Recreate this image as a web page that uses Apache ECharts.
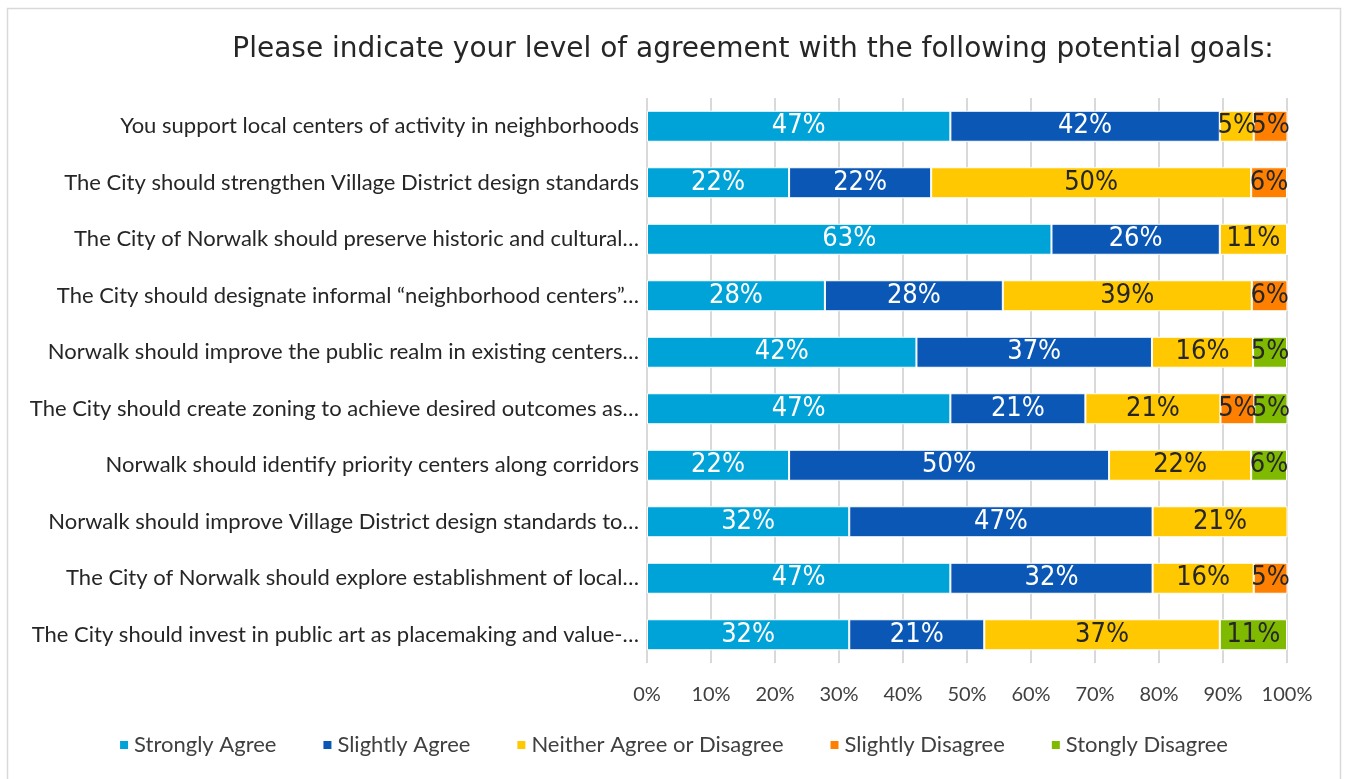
<!DOCTYPE html>
<html>
<head>
<meta charset="utf-8">
<script src="https://cdn.jsdelivr.net/npm/echarts@6/dist/echarts.min.js"></script>
<style>
html,body{margin:0;padding:0;background:#fff;}
#chart{width:1346px;height:779px;}
</style>
</head>
<body>
<div id="chart"></div>
<script>
const titleText = 'Please indicate your level of agreement with the following potential goals:';
const categories = [
  'You support local centers of activity in neighborhoods',
  'The City should strengthen Village District design standards',
  'The City of Norwalk should preserve historic and cultural…',
  'The City should designate informal \u201cneighborhood centers\u201d…',
  'Norwalk should improve the public realm in existing centers…',
  'The City should create zoning to achieve desired outcomes as…',
  'Norwalk should identify priority centers along corridors',
  'Norwalk should improve Village District design standards to…',
  'The City of Norwalk should explore establishment of local…',
  'The City should invest in public art as placemaking and value-…'
];
const seriesNames = ['Strongly Agree','Slightly Agree','Neither Agree or Disagree','Slightly Disagree','Stongly Disagree'];
const stronglyAgree   = [47.4, 22.2, 63.2, 27.8, 42.1, 47.4, 22.2, 31.6, 47.4, 31.6];
const slightlyAgree   = [42.1, 22.2, 26.3, 27.8, 36.8, 21.1, 50.0, 47.4, 31.6, 21.1];
const neither         = [5.3, 50.0, 10.5, 38.9, 15.8, 21.1, 22.2, 21.1, 15.8, 36.8];
const slightlyDisagree= [5.3, 5.6, 0, 5.6, 0, 5.3, 0, 0, 5.3, 0];
const stronglyDisagree= [0, 0, 0, 0, 5.3, 5.3, 5.6, 0, 0, 10.5];
const xTicks = [0,10,20,30,40,50,60,70,80,90,100];

const colors = ['#00A3D7','#0A57B6','#FFC800','#FF8000','#7FBA00'];
const labelColors = ['#ffffff','#ffffff','#262626','#262626','#262626'];
const allData = [stronglyAgree, slightlyAgree, neither, slightlyDisagree, stronglyDisagree];
const labelFont = '"Liberation Sans Narrow", "DejaVu Sans Condensed", Lato, sans-serif';
const textFont = 'Lato, "Open Sans", sans-serif';

const chart = echarts.init(document.getElementById('chart'));
chart.setOption({
  animation: false,
  color: colors,
  title: {
    text: titleText, left: 748, top: 31, textAlign: 'center',
    textStyle: {fontFamily: '"DejaVu Sans", sans-serif', fontWeight: 'normal', fontSize: 28, color: '#262626'}
  },
  graphic: [{type:'rect', shape:{x:7.5,y:8.5,width:1333,height:790}, style:{fill:'none', stroke:'#d9d9d9', lineWidth:1.5}, silent:true}],
  legend: {
    bottom: 18, left: 'center', itemWidth: 10, itemHeight: 10, itemGap: 45,
    icon: 'rect',
    textStyle: {fontFamily: textFont, fontSize: 22, color: '#404040'},
    data: seriesNames
  },
  grid: {left: 647, right: 59, top: 98, bottom: 116, containLabel: false},
  xAxis: {
    type: 'value', min: 0, max: 100, interval: 10,
    axisLine: {show: false}, axisTick: {show: false},
    splitLine: {lineStyle: {color: '#d9d9d9', width: 2}},
    axisLabel: {formatter: v => v + '%', fontFamily: textFont, fontSize: 20, color: '#404040', margin: 22}
  },
  yAxis: {
    type: 'category', inverse: true, data: categories,
    axisLine: {show: false}, axisTick: {show: false},
    axisLabel: {fontFamily: textFont, fontSize: 22, color: '#262626', margin: 8}
  },
  series: allData.map((d, i) => ({
    name: seriesNames[i], type: 'bar', stack: 'total', barWidth: 31,
    data: d,
    itemStyle: {color: colors[i], borderColor: '#fff', borderWidth: 1},
    label: {
      show: true, position: 'inside',
      formatter: p => p.value > 0 ? Math.round(p.value) + '%' : '',
      fontFamily: labelFont, fontSize: 27, color: labelColors[i]
    }
  }))
});
</script>
</body>
</html>
